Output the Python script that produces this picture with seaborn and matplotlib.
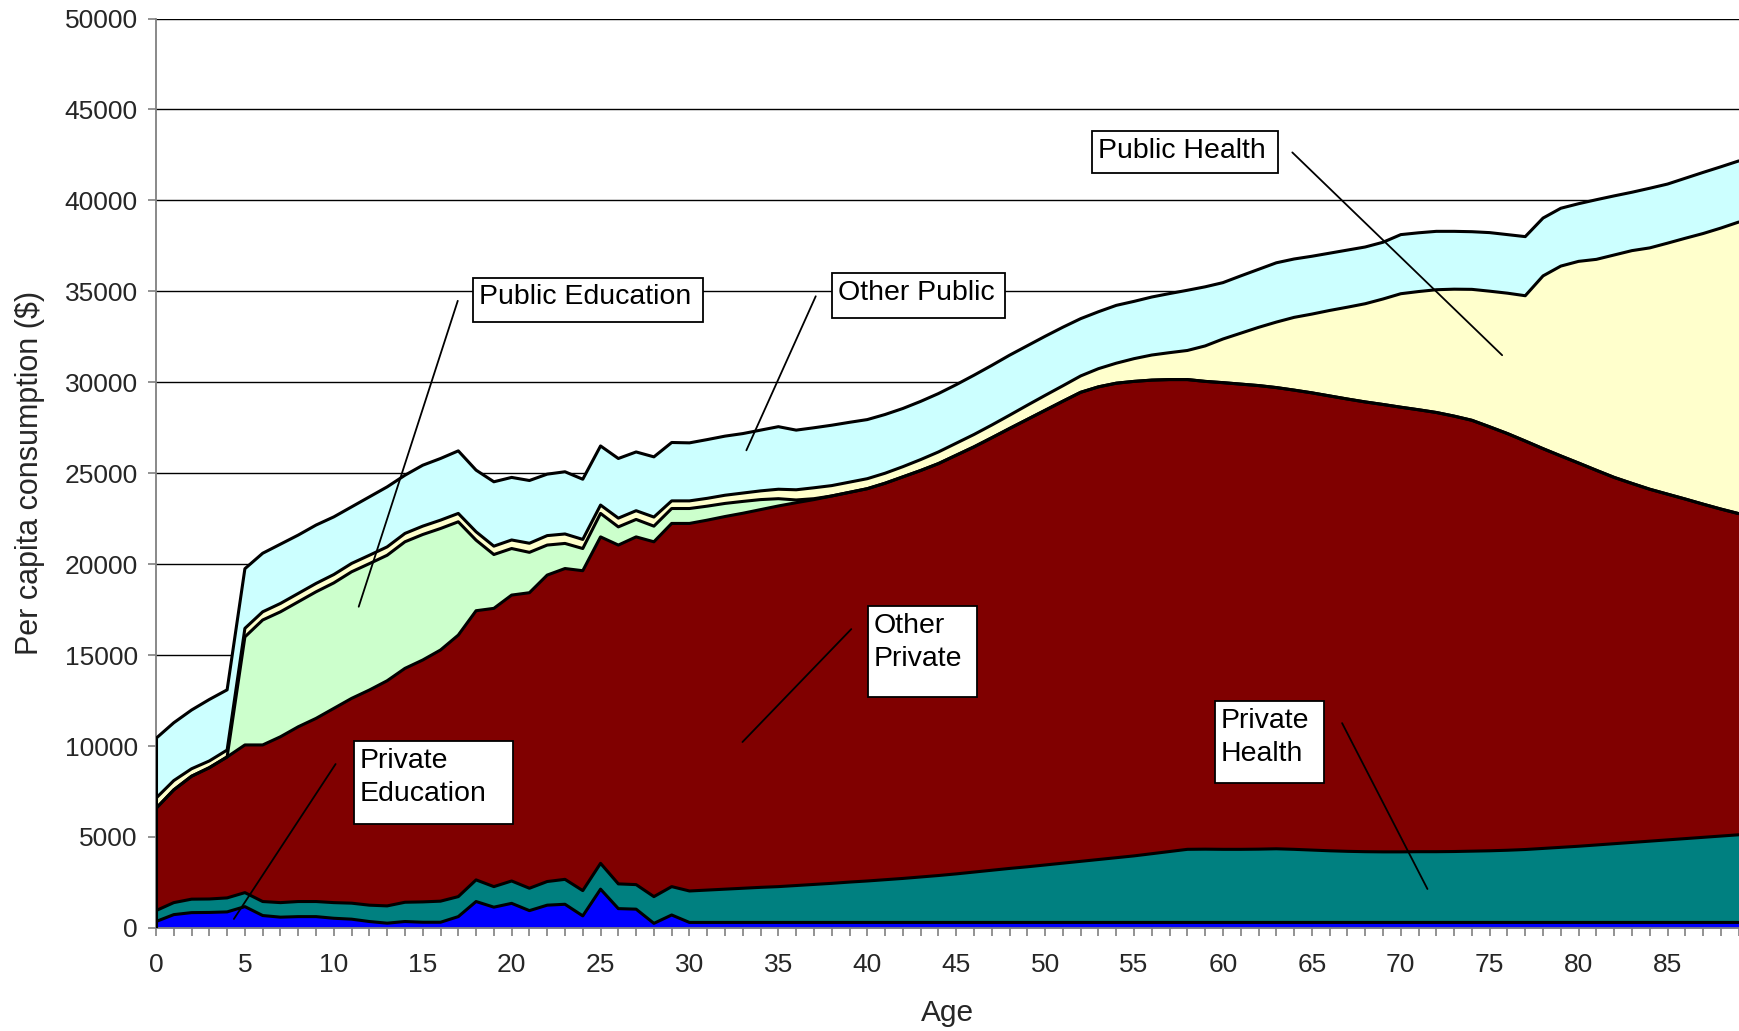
import numpy as np
import pandas as pd
import matplotlib
matplotlib.use("Agg")
import matplotlib.pyplot as plt
from matplotlib.patches import Rectangle
import seaborn as sns

# Per capita consumption by age, one list per component (bottom to top of the stack)
ages = np.arange(0, 90)

private_education = [
    350, 730, 840, 850, 880, 1170, 680, 590, 620, 620,
    530, 480, 350, 260, 350, 310, 310, 620, 1450, 1140,
    1350, 950, 1250, 1300, 660, 2130, 1060, 1030, 250, 710,
    300, 300, 300, 300, 300, 300, 300, 300, 300, 300,
    300, 300, 300, 300, 300, 300, 300, 300, 300, 300,
    300, 300, 300, 300, 300, 300, 300, 300, 300, 300,
    300, 300, 300, 300, 300, 300, 300, 300, 300, 300,
    300, 300, 300, 300, 300, 300, 300, 300, 300, 300,
    300, 300, 300, 300, 300, 300, 300, 300, 300, 300,
]
private_health = [
    600, 660, 740, 740, 770, 770, 770, 800, 830, 830,
    860, 880, 900, 950, 1060, 1120, 1160, 1100, 1190, 1130,
    1230, 1230, 1300, 1370, 1390, 1420, 1360, 1350, 1470, 1560,
    1730, 1780, 1830, 1880, 1930, 1970, 2030, 2090, 2150, 2220,
    2280, 2350, 2420, 2500, 2580, 2670, 2770, 2870, 2970, 3060,
    3160, 3260, 3360, 3460, 3560, 3660, 3780, 3900, 4020, 4030,
    4020, 4020, 4030, 4050, 4020, 3980, 3940, 3910, 3890, 3880,
    3880, 3890, 3890, 3900, 3920, 3940, 3970, 4010, 4070, 4130,
    4190, 4260, 4330, 4400, 4470, 4540, 4610, 4680, 4750, 4820,
]
other_private = [
    5620, 6200, 6760, 7220, 7750, 8120, 8610, 9120, 9610, 10070,
    10680, 11260, 11830, 12380, 12860, 13300, 13810, 14380, 14800, 15300,
    15720, 16250, 16850, 17090, 17590, 17950, 18630, 19120, 19510, 19970,
    20210, 20340, 20490, 20620, 20770, 20930, 21050, 21160, 21300, 21430,
    21570, 21800, 22080, 22350, 22650, 23020, 23380, 23780, 24190, 24600,
    25000, 25400, 25790, 25990, 26090, 26090, 26040, 25950, 25830, 25720,
    25660, 25580, 25490, 25360, 25250, 25140, 25010, 24870, 24730, 24600,
    24450, 24300, 24150, 23940, 23690, 23310, 22910, 22460, 21980, 21520,
    21070, 20600, 20140, 19740, 19350, 19010, 18670, 18320, 17980, 17660,
]
public_education = [
    0, 0, 0, 0, 0, 5940, 6870, 6870, 6870, 6960,
    6900, 6960, 6950, 6900, 6960, 6900, 6680, 6230, 3880, 2960,
    2560, 2220, 1650, 1380, 1220, 1290, 1000, 960, 860, 820,
    820, 770, 720, 650, 550, 400, 150, 50, 0, 0,
    0, 0, 0, 0, 0, 0, 0, 0, 0, 0,
    0, 0, 0, 0, 0, 0, 0, 0, 0, 0,
    0, 0, 0, 0, 0, 0, 0, 0, 0, 0,
    0, 0, 0, 0, 0, 0, 0, 0, 0, 0,
    0, 0, 0, 0, 0, 0, 0, 0, 0, 0,
]
public_health = [
    560, 510, 410, 370, 380, 470, 450, 460, 460, 460,
    460, 460, 460, 460, 460, 460, 460, 460, 460, 460,
    470, 500, 520, 520, 500, 460, 480, 480, 500, 420,
    420, 430, 450, 460, 480, 520, 560, 600, 570, 560,
    550, 550, 560, 600, 640, 660, 680, 700, 730, 780,
    820, 850, 900, 1000, 1100, 1250, 1380, 1480, 1600, 1950,
    2400, 2800, 3200, 3600, 4000, 4330, 4700, 5050, 5400, 5800,
    6240, 6500, 6750, 6980, 7200, 7460, 7720, 7990, 9500, 10440,
    11090, 11600, 12230, 12800, 13270, 13800, 14340, 14880, 15450, 16030,
]
other_public = [
    3290, 3180, 3230, 3380, 3310, 3280, 3220, 3260, 3210, 3210,
    3170, 3110, 3210, 3300, 3200, 3350, 3390, 3440, 3390, 3540,
    3440, 3450, 3380, 3420, 3310, 3250, 3280, 3230, 3310, 3210,
    3190, 3230, 3250, 3270, 3340, 3440, 3280, 3300, 3320, 3290,
    3250, 3230, 3200, 3200, 3210, 3220, 3260, 3280, 3300, 3270,
    3250, 3220, 3150, 3130, 3180, 3150, 3190, 3250, 3310, 3250,
    3100, 3150, 3190, 3260, 3210, 3180, 3150, 3140, 3120, 3120,
    3250, 3230, 3210, 3180, 3170, 3220, 3220, 3250, 3180, 3180,
    3170, 3280, 3250, 3210, 3280, 3250, 3300, 3360, 3370, 3360,
]

series_names = ["Private Education", "Private Health", "Other Private",
                "Public Education", "Public Health", "Other Public"]
series_colors = ["#0000FF", "#008080", "#800000", "#CCFFCC", "#FFFFCC", "#CCFFFF"]

df = pd.DataFrame({
    "age": ages,
    "Private Education": private_education,
    "Private Health": private_health,
    "Other Private": other_private,
    "Public Education": public_education,
    "Public Health": public_health,
    "Other Public": other_public,
})

sns.set_theme(style="white")
plt.rcParams["font.family"] = ["Liberation Sans", "DejaVu Sans"]

fig = plt.figure(figsize=(17.39, 10.31), dpi=100)
ax = fig.add_axes([0.0897, 0.1, 0.9103, 0.882])

# Stacked areas, each with a black outline on top
lower = np.zeros(len(df))
for name, color in zip(series_names, series_colors):
    upper = lower + df[name].to_numpy()
    ax.fill_between(df["age"], lower, upper, color=color, lw=0, zorder=2)
    sns.lineplot(x=df["age"], y=upper, color="black", lw=2.2, zorder=3,
                 ax=ax, legend=False)
    lower = upper
ax.vlines(0, 0, lower[0], color="black", lw=2.2, zorder=3)

# Axes
ax.set_xlim(0, 89.02)
ax.set_ylim(0, 50000)
ax.set_yticks(np.arange(0, 50001, 5000))
ax.set_xticks(np.arange(0, 90, 5))
ax.set_xticks(np.arange(0, 90, 1), minor=True)
ax.yaxis.grid(True, color="black", lw=1.0)
ax.set_axisbelow(True)
for s in ["top", "right"]:
    ax.spines[s].set_visible(False)
ax.spines["left"].set_color("#808080")
ax.spines["left"].set_linewidth(1.3)
ax.spines["bottom"].set_color("#808080")
ax.spines["bottom"].set_linewidth(1.3)
ax.tick_params(axis="y", which="major", direction="out", length=6, width=1.2,
               color="#808080", labelsize=19, pad=7, left=True)
ax.tick_params(axis="x", which="both", direction="out", length=6, width=1.2,
               color="#808080", labelsize=19, pad=12, bottom=True)
ax.set_xlabel("Age", fontsize=21.5, labelpad=16)
ax.set_ylabel("Per capita consumption ($)", fontsize=22, labelpad=14)

# Callout boxes (age / value extents) with leader lines
callouts = [
    ("Public Education", (17.84, 30.74, 33320, 35760), (16.97, 34480), (11.4, 17660)),
    ("Other Public", (38.03, 47.75, 33560, 36000), (37.1, 34730), (33.2, 26260)),
    ("Public Health", (52.62, 63.07, 41500, 43810), (63.9, 42640), (75.7, 31490)),
    ("Other\nPrivate", (40.02, 46.16, 12670, 17710), (39.1, 16430), (32.98, 10220)),
    ("Private\nHealth", (59.53, 65.70, 7970, 12470), (66.7, 11260), (71.5, 2140)),
    ("Private\nEducation", (11.11, 20.08, 5710, 10280), (10.1, 9010), (4.38, 490)),
]
for text, (x0, x1, y0, y1), p1, p2 in callouts:
    ax.plot([p1[0], p2[0]], [p1[1], p2[1]], color="black", lw=1.3, zorder=5)
    ax.add_patch(Rectangle((x0, y0), x1 - x0, y1 - y0, facecolor="white",
                           edgecolor="black", lw=1.3, zorder=6))
    ax.text(x0 + 0.34, y1 - 380, text, fontsize=20.5, ha="left", va="top",
            linespacing=1.35, zorder=7, color="black")

fig.savefig("out.png", dpi=100)
